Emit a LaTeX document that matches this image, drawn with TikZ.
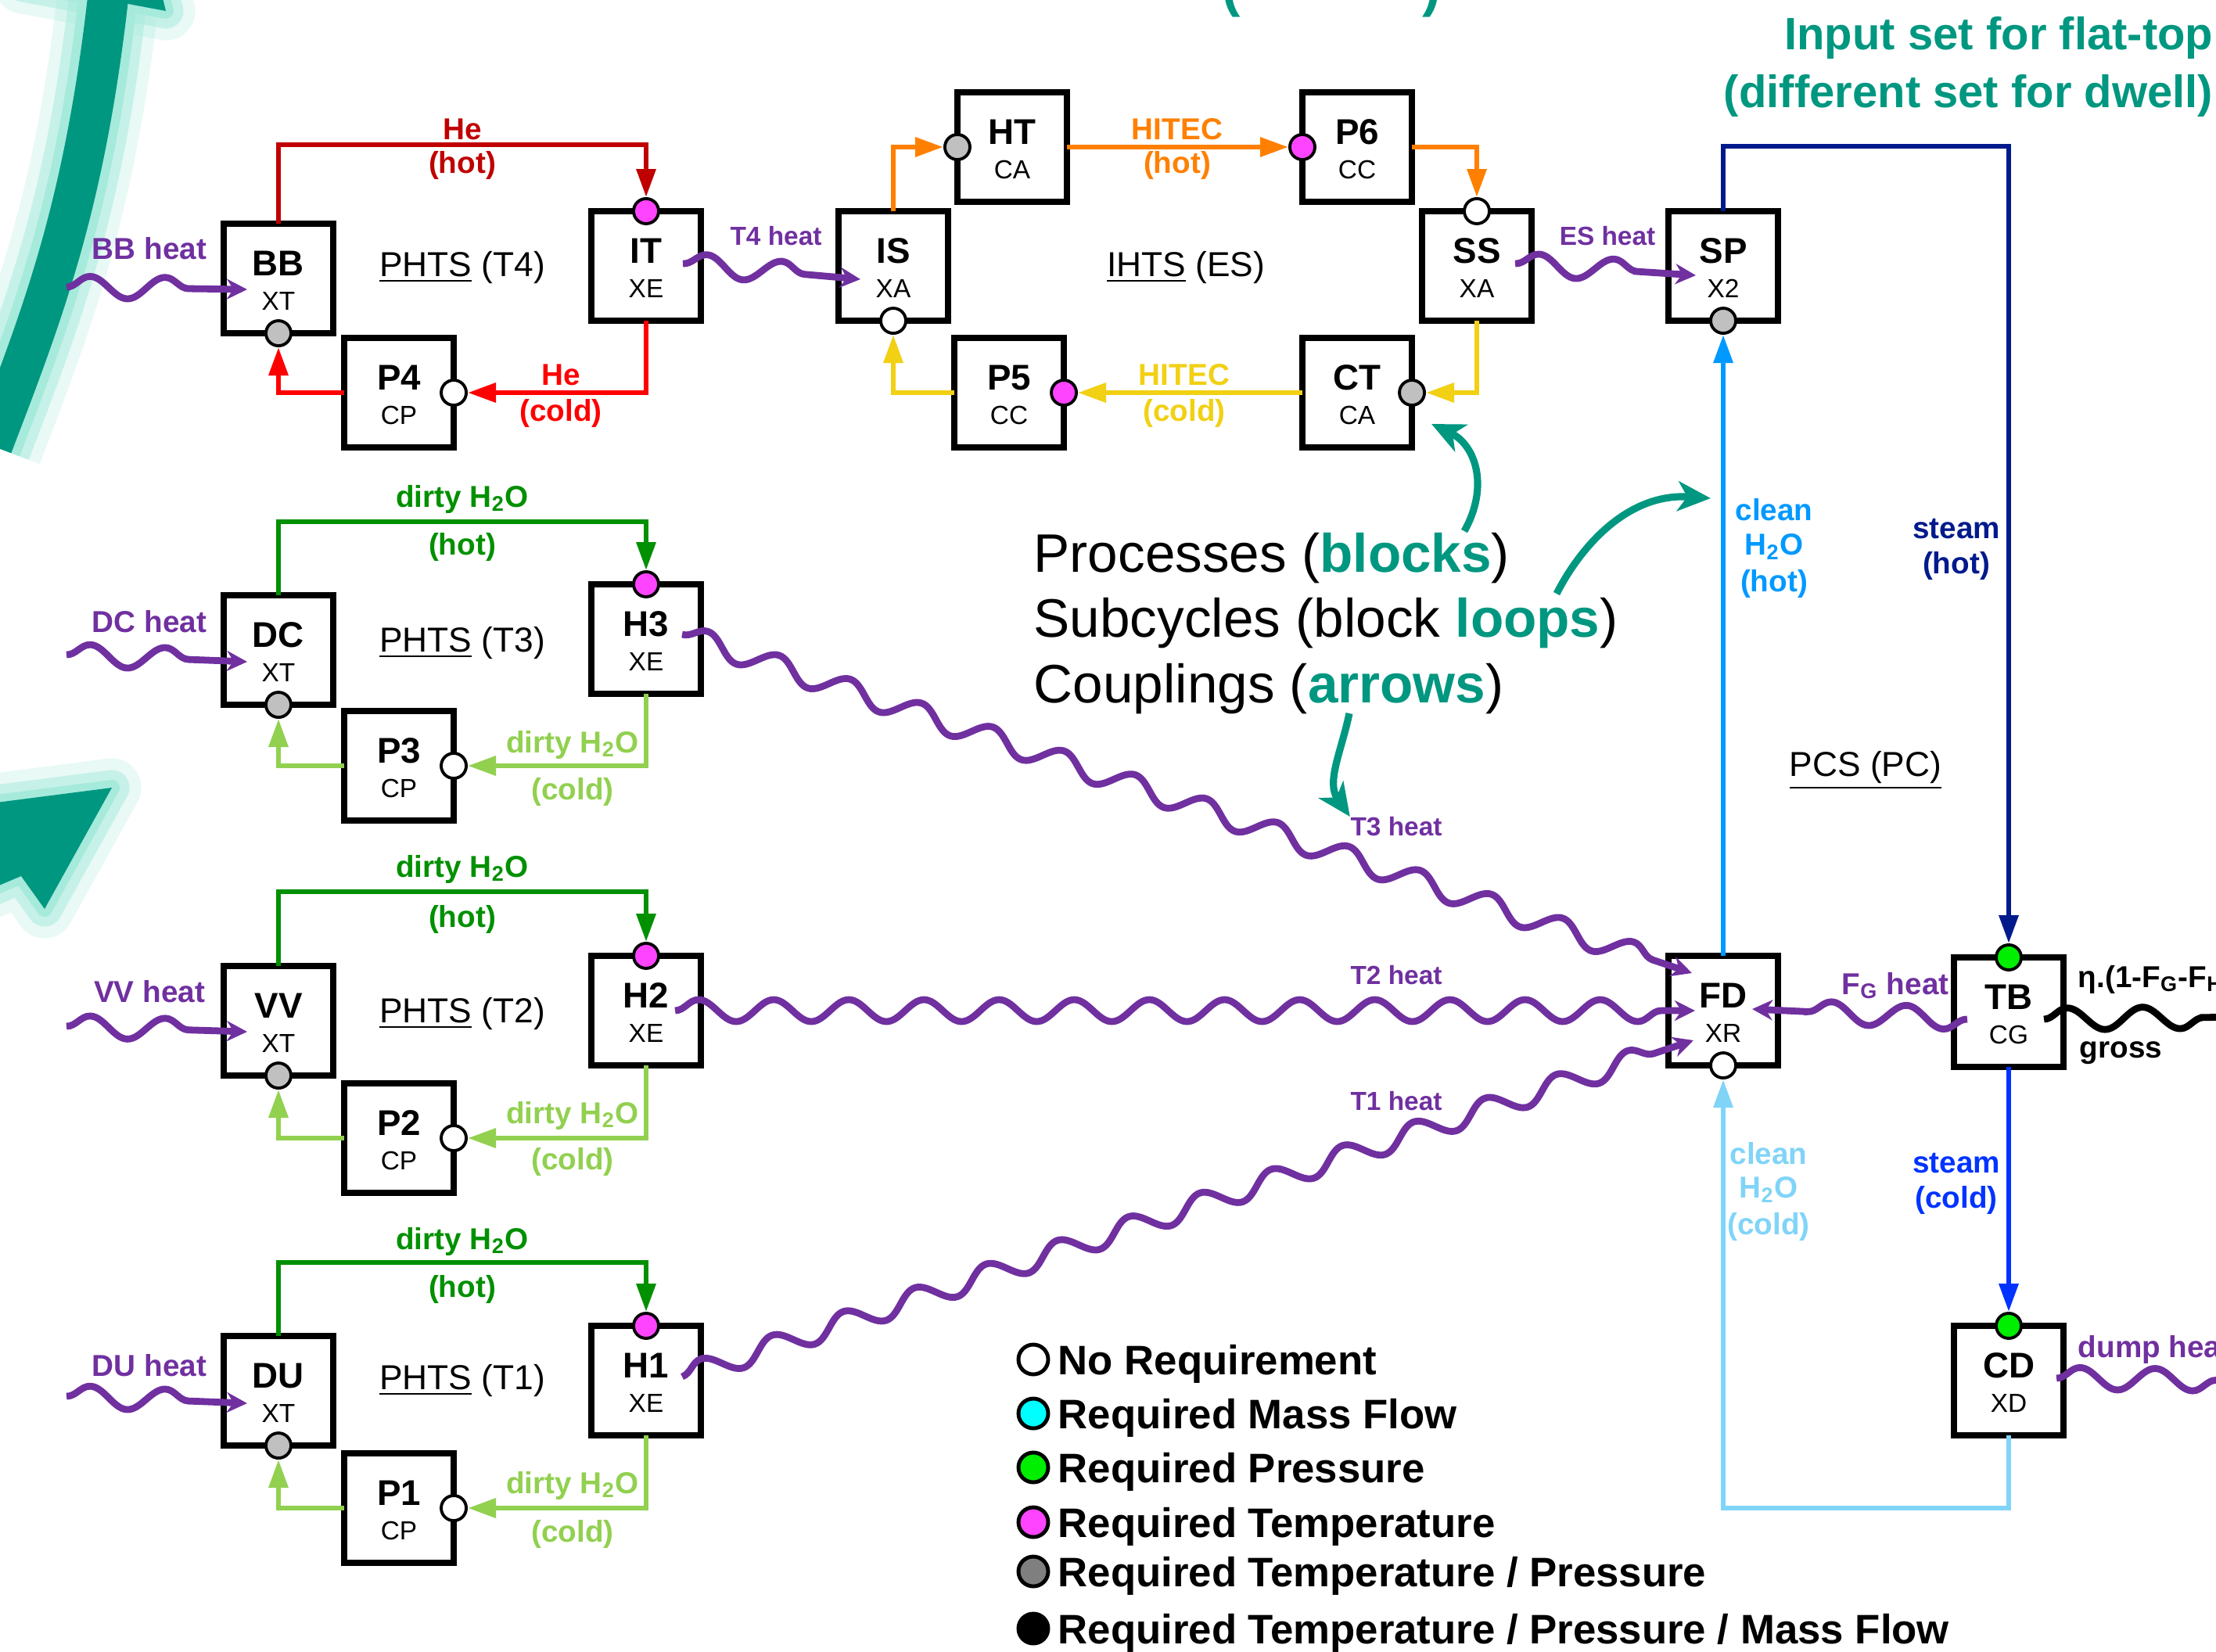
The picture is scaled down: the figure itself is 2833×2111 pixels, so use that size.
\documentclass[tikz,border=0pt]{standalone}
\usepackage{fontspec}
\setmainfont{Liberation Sans}
\usetikzlibrary{arrows.meta,decorations.pathmorphing,calc}

\definecolor{hotred}{HTML}{C00000}
\definecolor{coldred}{HTML}{FF0000}
\definecolor{hotorange}{HTML}{FF8000}
\definecolor{coldyellow}{HTML}{F2D013}
\definecolor{hotgreen}{HTML}{009000}
\definecolor{coldgreen}{HTML}{92D050}
\definecolor{cleanhot}{HTML}{0099FF}
\definecolor{cleancold}{HTML}{80D4F8}
\definecolor{steamhot}{HTML}{001A8C}
\definecolor{steamcold}{HTML}{0033FF}
\definecolor{heatc}{HTML}{7030A0}
\definecolor{tealc}{HTML}{009780}
\definecolor{glowc}{HTML}{A6EADC}
\definecolor{markgray}{HTML}{C0C0C0}
\definecolor{markmag}{HTML}{FF44FF}
\definecolor{markgreen}{HTML}{00EE00}
\definecolor{markcyan}{HTML}{00FFFF}
\definecolor{markdark}{HTML}{7F7F7F}

\newcommand{\fsz}[1]{\fontsize{#1}{#1}\selectfont}

\tikzset{
 proc/.style={draw, line width=2.1pt, minimum width=1.4cm, minimum height=1.4cm, inner sep=0, outer sep=0, fill=white},
 ptop/.style={font=\fsz{13}\bfseries, inner sep=0},
 psub/.style={font=\fsz{9.5}, inner sep=0},
 mk/.style={circle, draw, line width=1.1pt, minimum size=0.32cm, inner sep=0},
 flow/.style={line width=1.8pt, -{Triangle[length=0.36cm,width=0.24cm]}},
 flab/.style={font=\fsz{11}\bfseries, inner sep=0},
 hlab/.style={font=\fsz{11}\bfseries, inner sep=0, text=heatc},
 tlab/.style={font=\fsz{9.5}\bfseries, inner sep=0, text=heatc},
 heatw/.style={draw=heatc, line width=2.5pt, decorate, decoration={snake, amplitude=0.14cm, segment length=0.96cm, post length=0.3cm}, -{Stealth[length=0.26cm,width=0.26cm]}},
 subsys/.style={font=\fsz{12.6}, inner sep=0},
 leg/.style={font=\fsz{15}\bfseries, inner sep=0, anchor=base west},
 legm/.style={circle, draw, line width=1.4pt, minimum size=0.38cm, inner sep=0},
 big/.style={font=\fsz{19.7}, inner sep=0, anchor=base west},
 note/.style={draw=tealc, line width=2.6pt, -{Stealth[length=0.42cm,width=0.38cm,inset=0.12cm]}},
}

\newcommand{\blk}[5]{%
 \node[proc] (#1) at (#2,#3) {};
 \node[ptop] (#1t) at ($(#1.center)+(0,-19)$) {#4};
 \node[psub] (#1s) at ($(#1.center)+(0,29)$) {#5};
}

\begin{document}
\begin{tikzpicture}[x=0.01cm,y=-0.01cm]
\useasboundingbox (0,0) rectangle (2833,2111);
\clip (0,0) rectangle (2833,2111);
\fill[white] (0,0) rectangle (2833,2111);

% ---- big decorative teal arrows (left) ----
\draw[glowc, opacity=0.25, line width=1.3cm] (-10,570) .. controls (55,400) and (110,260) .. (140,-20);
\draw[glowc, opacity=0.25, line width=0.75cm, line join=round] (30,-20) -- (212,14) -- (160,-200) -- cycle;
\draw[glowc, opacity=0.25, line width=0.75cm, line join=round] (-20,1028) -- (143,1007) -- (57,1162) -- (27,1120) -- (-20,1140) -- cycle;
\draw[glowc, opacity=0.5, line width=1.0cm] (-10,570) .. controls (55,400) and (110,260) .. (140,-20);
\draw[glowc, opacity=0.5, line width=0.45cm, line join=round] (30,-20) -- (212,14) -- (160,-200) -- cycle;
\draw[glowc, opacity=0.5, line width=0.45cm, line join=round] (-20,1028) -- (143,1007) -- (57,1162) -- (27,1120) -- (-20,1140) -- cycle;
\draw[glowc, line width=0.75cm] (-10,570) .. controls (55,400) and (110,260) .. (140,-20);
\draw[glowc, line width=0.2cm, line join=round] (30,-20) -- (212,14) -- (160,-200) -- cycle;
\draw[glowc, line width=0.2cm, line join=round] (-20,1028) -- (143,1007) -- (57,1162) -- (27,1120) -- (-20,1140) -- cycle;
\draw[tealc, line width=0.52cm] (-10,570) .. controls (55,400) and (110,260) .. (140,-20);
\fill[tealc] (30,-20) -- (212,14) -- (160,-200) -- cycle;
\fill[tealc] (-20,1028) -- (143,1007) -- (57,1162) -- (27,1120) -- (-20,1140) -- cycle;

% ---- teal texts ----
\node[anchor=base west, inner sep=0, font=\fsz{20}\bfseries, text=tealc] (toppar) at (1562,7) {(\hspace{66pt})};
\node[anchor=base east, inner sep=0, font=\fsz{16.5}\bfseries, text=tealc] (in1) at (2830,63) {Input set for flat-top};
\node[anchor=base east, inner sep=0, font=\fsz{16.5}\bfseries, text=tealc] (in2) at (2830,137) {(different set for dwell)};

% ---- blocks ----
\blk{BB}{356}{356}{BB}{XT}
\blk{P4}{510}{502}{P4}{CP}
\blk{IT}{826}{340}{IT}{XE}
\blk{IS}{1142}{340}{IS}{XA}
\blk{HT}{1294}{188}{HT}{CA}
\blk{P6}{1735}{188}{P6}{CC}
\blk{SS}{1888}{340}{SS}{XA}
\blk{CT}{1735}{502}{CT}{CA}
\blk{P5}{1290}{502}{P5}{CC}
\blk{SP}{2203}{340}{SP}{X2}
\blk{DC}{356}{831}{DC}{XT}
\blk{P3}{510}{979}{P3}{CP}
\blk{H3}{826}{817}{H3}{XE}
\blk{VV}{356}{1305}{VV}{XT}
\blk{P2}{510}{1455}{P2}{CP}
\blk{H2}{826}{1292}{H2}{XE}
\blk{DU}{356}{1778}{DU}{XT}
\blk{P1}{510}{1928}{P1}{CP}
\blk{H1}{826}{1765}{H1}{XE}
\blk{FD}{2203}{1292}{FD}{XR}
\blk{TB}{2568}{1294}{TB}{CG}
\blk{CD}{2568}{1765}{CD}{XD}

% ---- requirement markers ----
\node[mk,fill=markgray] (BBc) at (BB.south) {};
\node[mk,fill=markmag] (ITc) at (IT.north) {};
\node[mk,fill=white] (P4c) at (P4.east) {};
\node[mk,fill=white] (ISc) at (IS.south) {};
\node[mk,fill=markgray] (HTc) at (HT.west) {};
\node[mk,fill=markmag] (P6c) at (P6.west) {};
\node[mk,fill=white] (SSc) at (SS.north) {};
\node[mk,fill=markgray] (CTc) at (CT.east) {};
\node[mk,fill=markmag] (P5c) at (P5.east) {};
\node[mk,fill=markgray] (SPc) at (SP.south) {};
\node[mk,fill=markgray] (DCc) at (DC.south) {};
\node[mk,fill=markmag] (H3c) at (H3.north) {};
\node[mk,fill=white] (P3c) at (P3.east) {};
\node[mk,fill=markgray] (VVc) at (VV.south) {};
\node[mk,fill=markmag] (H2c) at (H2.north) {};
\node[mk,fill=white] (P2c) at (P2.east) {};
\node[mk,fill=markgray] (DUc) at (DU.south) {};
\node[mk,fill=markmag] (H1c) at (H1.north) {};
\node[mk,fill=white] (P1c) at (P1.east) {};
\node[mk,fill=white] (FDc) at (FD.south) {};
\node[mk,fill=markgreen] (TBc) at (TB.north) {};
\node[mk,fill=markgreen] (CDc) at (CD.north) {};

% ---- PHTS T4 ----
\draw[flow, hotred] (BB.north) -- ++(0,-101) -| (ITc.north);
\draw[flow, coldred] (IT.south) |- (P4c.east);
\draw[flow, coldred] (P4.west) -| (BBc.south);
\node[flab, text=hotred] (l1) at (591,165) {He};
\node[flab, text=hotred] (l2) at (591,211) {(hot)};
\node[flab, text=coldred] (l3) at (717,479) {He};
\node[flab, text=coldred] (l4) at (717,528) {(cold)};
\node[subsys] (s4) at (591,342) {\underline{PHTS} (T4)};

% ---- IHTS ----
\draw[flow, hotorange] (IS.north) |- (HTc.west);
\draw[flow, hotorange] (HT.east) -- (P6c.west);
\draw[flow, hotorange] (P6.east) -| (SSc.north);
\draw[flow, coldyellow] (SS.south) |- (CTc.east);
\draw[flow, coldyellow] (CT.west) -- (P5c.east);
\draw[flow, coldyellow] (P5.west) -| (ISc.south);
\node[flab, text=hotorange] (l5) at (1505,165) {HITEC};
\node[flab, text=hotorange] (l6) at (1505,211) {(hot)};
\node[flab, text=coldyellow] (l7) at (1514,479) {HITEC};
\node[flab, text=coldyellow] (l8) at (1514,528) {(cold)};
\node[subsys] (ses) at (1516,342) {\underline{IHTS} (ES)};

% ---- PHTS T3 ----
\draw[flow, hotgreen] (DC.north) -- ++(0,-94) -| (H3c.north);
\draw[flow, coldgreen] (H3.south) |- (P3c.east);
\draw[flow, coldgreen] (P3.west) -| (DCc.south);
\node[flab, text=hotgreen] (l9) at (591,638) {dirty H\textsubscript{2}O};
\node[flab, text=hotgreen] (l10) at (591,699) {(hot)};
\node[flab, text=coldgreen] (l11) at (732,952) {dirty H\textsubscript{2}O};
\node[flab, text=coldgreen] (l12) at (732,1012) {(cold)};
\node[subsys] (s3) at (591,822) {\underline{PHTS} (T3)};

% ---- PHTS T2 ----
\draw[flow, hotgreen] (VV.north) -- ++(0,-95) -| (H2c.north);
\draw[flow, coldgreen] (H2.south) |- (P2c.east);
\draw[flow, coldgreen] (P2.west) -| (VVc.south);
\node[flab, text=hotgreen] (l13) at (591,1111) {dirty H\textsubscript{2}O};
\node[flab, text=hotgreen] (l14) at (591,1175) {(hot)};
\node[flab, text=coldgreen] (l15) at (732,1426) {dirty H\textsubscript{2}O};
\node[flab, text=coldgreen] (l16) at (732,1485) {(cold)};
\node[subsys] (s2) at (591,1296) {\underline{PHTS} (T2)};

% ---- PHTS T1 ----
\draw[flow, hotgreen] (DU.north) -- ++(0,-94) -| (H1c.north);
\draw[flow, coldgreen] (H1.south) |- (P1c.east);
\draw[flow, coldgreen] (P1.west) -| (DUc.south);
\node[flab, text=hotgreen] (l17) at (591,1587) {dirty H\textsubscript{2}O};
\node[flab, text=hotgreen] (l18) at (591,1648) {(hot)};
\node[flab, text=coldgreen] (l19) at (732,1899) {dirty H\textsubscript{2}O};
\node[flab, text=coldgreen] (l20) at (732,1961) {(cold)};
\node[subsys] (s1) at (591,1765) {\underline{PHTS} (T1)};

% ---- PCS ----
\draw[flow, steamhot] (SP.north) -- ++(0,-83) -| (TBc.north);
\draw[flow, cleanhot] (FD.north) -- (SPc.south);
\draw[flow, steamcold] (TB.south) -- (CDc.north);
\draw[flow, cleancold] (CD.south) -- ++(0,93) -| (FDc.south);
\node[flab, text=steamhot] (l21) at (2501,676) {steam};
\node[flab, text=steamhot] (l22) at (2501,723) {(hot)};
\node[flab, text=cleanhot] (l23) at (2268,652) {clean};
\node[flab, text=cleanhot] (l24) at (2268,699) {H\textsubscript{2}O};
\node[flab, text=cleanhot] (l25) at (2268,746) {(hot)};
\node[flab, text=steamcold] (l26) at (2501,1487) {steam};
\node[flab, text=steamcold] (l27) at (2501,1534) {(cold)};
\node[flab, text=cleancold] (l28) at (2261,1475) {clean};
\node[flab, text=cleancold] (l29) at (2261,1521) {H\textsubscript{2}O};
\node[flab, text=cleancold] (l30) at (2261,1568) {(cold)};
\node[subsys] (spc) at (2385,985) {\underline{PCS (PC)}};

% ---- heat couplings ----
\coordinate (BBsrc) at (85,367);
\coordinate (DCsrc) at (85,837);
\coordinate (VVsrc) at (85,1312);
\coordinate (DUsrc) at (85,1785);
\coordinate (TBout) at (2880,1300);
\coordinate (CDout) at (2880,1765);
\draw[heatw] (BBsrc) -- ($(BB.west)+(30,14)$);
\draw[heatw] (DCsrc) -- ($(DC.west)+(30,15)$);
\draw[heatw] (VVsrc) -- ($(VV.west)+(30,14)$);
\draw[heatw] (DUsrc) -- ($(DU.west)+(30,16)$);
\draw[heatw] ($(IT.east)+(-23,-3)$) -- ($(IS.west)+(28,17)$);
\draw[heatw] ($(SS.east)+(-21,-3)$) -- ($(SP.west)+(35,12)$);
\draw[heatw] ($(H3.east)+(-24,-6)$) -- ($(FD.west)+(30,-48)$);
\draw[heatw] ($(H2.east)+(-33,0)$) -- ($(FD.west)+(34,0)$);
\draw[heatw] ($(H1.east)+(-24,-5)$) -- ($(FD.west)+(32,38)$);
\draw[heatw] ($(TB.west)+(17,9)$) -- ($(FD.east)+(-33,-2)$);
\draw[heatw, draw=black] ($(TB.east)+(-25,9)$) -- (TBout);
\draw[heatw] ($(CD.east)+(-9,-3)$) -- (CDout);
\node[hlab] (h1) at (191,318) {BB heat};
\node[hlab] (h2) at (191,795) {DC heat};
\node[hlab] (h3) at (191,1268) {VV heat};
\node[hlab] (h4) at (191,1746) {DU heat};
\node[tlab] (h5) at (992,302) {T4 heat};
\node[tlab] (h6) at (2055,302) {ES heat};
\node[tlab] (h7) at (1785,1057) {T3 heat};
\node[tlab] (h8) at (1785,1247) {T2 heat};
\node[tlab] (h9) at (1785,1408) {T1 heat};
\node[hlab] (h10) at (2423,1260) {F\textsubscript{G} heat};
\node[hlab, anchor=west] (h11) at (2656,1725) {dump heat};
\node[flab, anchor=west] (h12) at (2656,1252) {η.(1-F\textsubscript{G}-F\textsubscript{H}};
\node[flab, anchor=west] (h13) at (2658,1346) {gross};

% ---- explanation text ----
\node[big] (t1) at (1321,731) {Processes (\textcolor{tealc}{\bfseries blocks})};
\node[big] (t2) at (1321,814) {Subcycles (block \textcolor{tealc}{\bfseries loops})};
\node[big] (t3) at (1321,898) {Couplings (\textcolor{tealc}{\bfseries arrows})};
\coordinate (a1s) at (1872,679);
\coordinate (a2s) at (1990,759);
\coordinate (a3s) at (1725,912);
\draw[note] (a1s) .. controls (1905,620) and (1885,568) .. ($(CT.east)+(25,40)$);
\draw[note] (a2s) .. controls (2020,700) and (2080,630) .. ($(FD.west)+(54,-655)$);
\draw[note] (a3s) .. controls (1715,960) and (1695,1000) .. (h7.north west);

% ---- legend ----
\node[legm, fill=white] (g1c) at (1321,1738) {};
\node[leg] (g1) at (1352,1757) {No Requirement};
\node[legm, fill=markcyan] (g2c) at (1321,1807) {};
\node[leg] (g2) at (1352,1826) {Required Mass Flow};
\node[legm, fill=markgreen] (g3c) at (1321,1876) {};
\node[leg] (g3) at (1352,1895) {Required Pressure};
\node[legm, fill=markmag] (g4c) at (1321,1946) {};
\node[leg] (g4) at (1352,1965) {Required Temperature};
\node[legm, fill=markdark] (g5c) at (1321,2009) {};
\node[leg] (g5) at (1352,2028) {Required Temperature / Pressure};
\node[legm, fill=black] (g6c) at (1321,2082) {};
\node[leg] (g6) at (1352,2101) {Required Temperature / Pressure / Mass Flow};
\end{tikzpicture}
\end{document}
